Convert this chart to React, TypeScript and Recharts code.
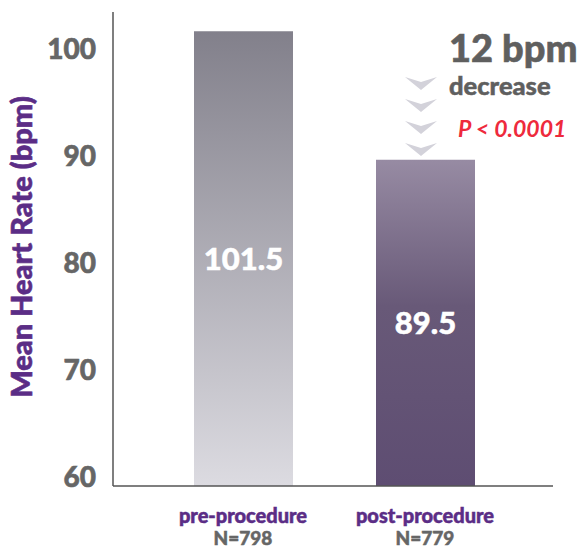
import React from 'react';
import { BarChart, Bar, XAxis, YAxis, LabelList } from 'recharts';

// chart values
const categories = ['pre-procedure', 'post-procedure'];
const sampleSizes = ['N=798', 'N=779'];
const meanHeartRate = [101.5, 89.5];
const yTicks = [60, 70, 80, 90, 100];

const data = categories.map((name, i) => ({
  name,
  n: sampleSizes[i],
  value: meanHeartRate[i],
  fill: i === 0 ? 'url(#preGrad)' : 'url(#postGrad)',
}));

const FONT = 'Lato, "Open Sans", sans-serif';

const CategoryTick = (props: any) => {
  const { x, y, payload, index } = props;
  return (
    <g transform={`translate(${x},${y})`}>
      <text x={0} y={29} textAnchor="middle" fill="#5b2d86" stroke="#5b2d86" strokeWidth={0.5}
        fontFamily={FONT} fontWeight={900} fontSize={20}>
        {payload.value}
      </text>
      <text x={0} y={51} textAnchor="middle" fill="#666666" stroke="#666666" strokeWidth={0.5}
        fontFamily={FONT} fontWeight={900} fontSize={19}>
        {sampleSizes[index]}
      </text>
    </g>
  );
};

const Chevron = ({ y }: { y: number }) => (
  <path d={`M405,${y} L421,${y + 5} L437,${y} L421,${y + 13} Z`} fill="#d3d2da" />
);

export default function App() {
  return (
    <div style={{ position: 'absolute', left: 0, top: 0, width: 584, height: 550, background: '#ffffff' }}>
      <BarChart width={584} height={550} data={data} margin={{ top: 12, right: 31, bottom: 0, left: 0 }}>
        <defs>
          <linearGradient id="preGrad" x1="0" y1="0" x2="0" y2="1">
            <stop offset="0%" stopColor="#82808b" />
            <stop offset="100%" stopColor="#dcdbe1" />
          </linearGradient>
          <linearGradient id="postGrad" x1="0" y1="0" x2="0" y2="1">
            <stop offset="0%" stopColor="#978ba3" />
            <stop offset="45%" stopColor="#685978" />
            <stop offset="100%" stopColor="#5e4d72" />
          </linearGradient>
        </defs>
        <XAxis
          dataKey="name"
          height={64}
          padding={{ left: 39, right: 37 }}
          axisLine={{ stroke: '#555555', strokeWidth: 1.5 }}
          tickLine={false}
          tick={<CategoryTick />}
          interval={0}
        />
        <YAxis
          width={113}
          type="number"
          domain={[59, 103.3]}
          allowDataOverflow
          ticks={yTicks}
          axisLine={{ stroke: '#555555', strokeWidth: 1.5 }}
          tickLine={false}
          tickSize={0}
          tickMargin={17}
          tick={{ fill: '#666666', stroke: '#666666', strokeWidth: 0.6, fontFamily: FONT, fontWeight: 900, fontSize: 28, dy: 2 }}
        />
        <Bar dataKey="value" barSize={99} isAnimationActive={false}>
          <LabelList
            dataKey="value"
            position="center"
            fill="#ffffff"
            stroke="#ffffff"
            strokeWidth={0.5}
            fontFamily={FONT}
            fontWeight={900}
            fontSize={31}
            formatter={(v: any) => Number(v).toFixed(1)}
          />
        </Bar>
        <text
          transform="translate(32,247) rotate(-90)"
          textAnchor="middle"
          fill="#5b2d86"
          stroke="#5b2d86"
          strokeWidth={0.6}
          fontFamily={FONT}
          fontWeight={900}
          fontSize={29}
        >
          Mean Heart Rate (bpm)
        </text>
        <text x={449} y={62} fill="#5f5f5f" stroke="#5f5f5f" strokeWidth={0.6}
          fontFamily={FONT} fontWeight={900} fontSize={38}>
          12 bpm
        </text>
        <text x={449} y={95} fill="#5f5f5f" stroke="#5f5f5f" strokeWidth={0.5}
          fontFamily={FONT} fontWeight={900} fontSize={25.5}>
          decrease
        </text>
        <text x={458} y={137} fill="#ee2a3c" fontFamily={FONT} fontStyle="italic" fontWeight={700} fontSize={23}>
          P &lt; 0.0001
        </text>
        <Chevron y={77} />
        <Chevron y={99} />
        <Chevron y={121} />
        <Chevron y={143} />
      </BarChart>
    </div>
  );
}
